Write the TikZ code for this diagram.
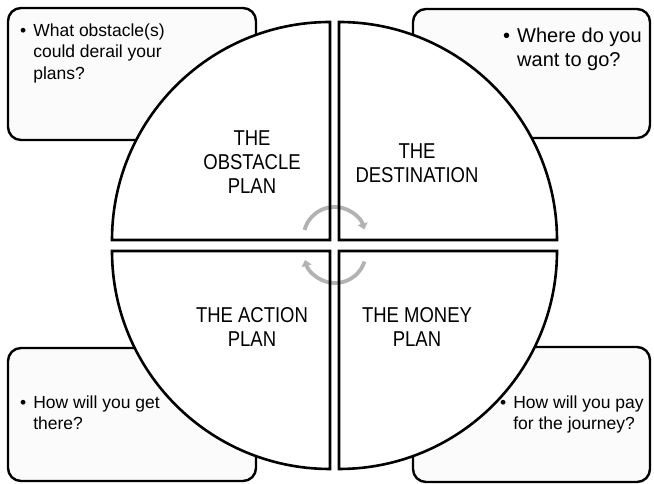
\documentclass[tikz,border=0pt]{standalone}
\usepackage{fontspec}
\setmainfont{Liberation Sans}
\newfontfamily\quadfont[FakeStretch=0.86]{Liberation Sans}
\usetikzlibrary{arrows.meta}

\begin{document}
\begin{tikzpicture}[x=1pt, y=1pt,
  box/.style={draw=black, line width=2.4pt, fill=black!1.5, rounded corners=13pt},
  quad/.style={fill=white},
  rim/.style={draw=black, line width=2.6pt, line join=miter},
  cycarrow/.style={draw=black!30, line width=3.8pt, -{Triangle[width=10pt,length=6pt]}},
  quadtext/.style={align=center, inner sep=0pt, font=\quadfont\fontsize{21.5}{24}\selectfont},
  note/.style={anchor=north west, inner sep=0pt, font=\fontsize{17.5}{21.5}\selectfont}]
\useasboundingbox (0,0) rectangle (654,484);
\draw [box] (8,344) rectangle (256,476);
\draw [box] (413,346) rectangle (650,475);
\draw [box] (8,3) rectangle (256,136);
\draw [box] (413,2) rectangle (650,137);
\foreach \vx/\vy/\a in {330/244/90, 339/244/0, 330/233/180, 339/233/270}
  \fill [quad] (\vx,\vy) -- ++(\a:218) arc[start angle=\a, end angle=\a+90, radius=218] -- cycle;
\draw [cycarrow] (334.5,246) ++(165:31) arc[start angle=165, end angle=16, radius=31];
\draw [cycarrow] (335,232) ++(-18:31) arc[start angle=-18, end angle=-165, radius=31];
\foreach \vx/\vy/\a in {330/244/90, 339/244/0, 330/233/180, 339/233/270}
  \draw [rim] (\vx,\vy) -- ++(\a:218) arc[start angle=\a, end angle=\a+90, radius=218] -- cycle;
\node [quadtext] (obstacle) at (252,322) {THE\\OBSTACLE\\PLAN};
\node [quadtext] (destination) at (417,321) {THE\\DESTINATION};
\node [quadtext] (action) at (252,157) {THE ACTION\\PLAN};
\node [quadtext] (money) at (417,157) {THE MONEY\\PLAN};
\node [note] (obstaclenote) at (20,463) {\begin{tabular}{@{}l@{\hspace{7pt}}l@{}}\textbullet & What obstacle(s)\\ & could derail your\\ & plans?\end{tabular}};
\node [note, font=\fontsize{20}{24}\selectfont] (destinationnote) at (503,458) {\begin{tabular}{@{}l@{\hspace{7pt}}l@{}}\textbullet & Where do you\\ & want to go?\end{tabular}};
\node [note] (actionnote) at (20,91) {\begin{tabular}{@{}l@{\hspace{7pt}}l@{}}\textbullet & How will you get\\ & there?\end{tabular}};
\node [note] (moneynote) at (500,91) {\begin{tabular}{@{}l@{\hspace{7pt}}l@{}}\textbullet & How will you pay\\ & for the journey?\end{tabular}};
\end{tikzpicture}
\end{document}
